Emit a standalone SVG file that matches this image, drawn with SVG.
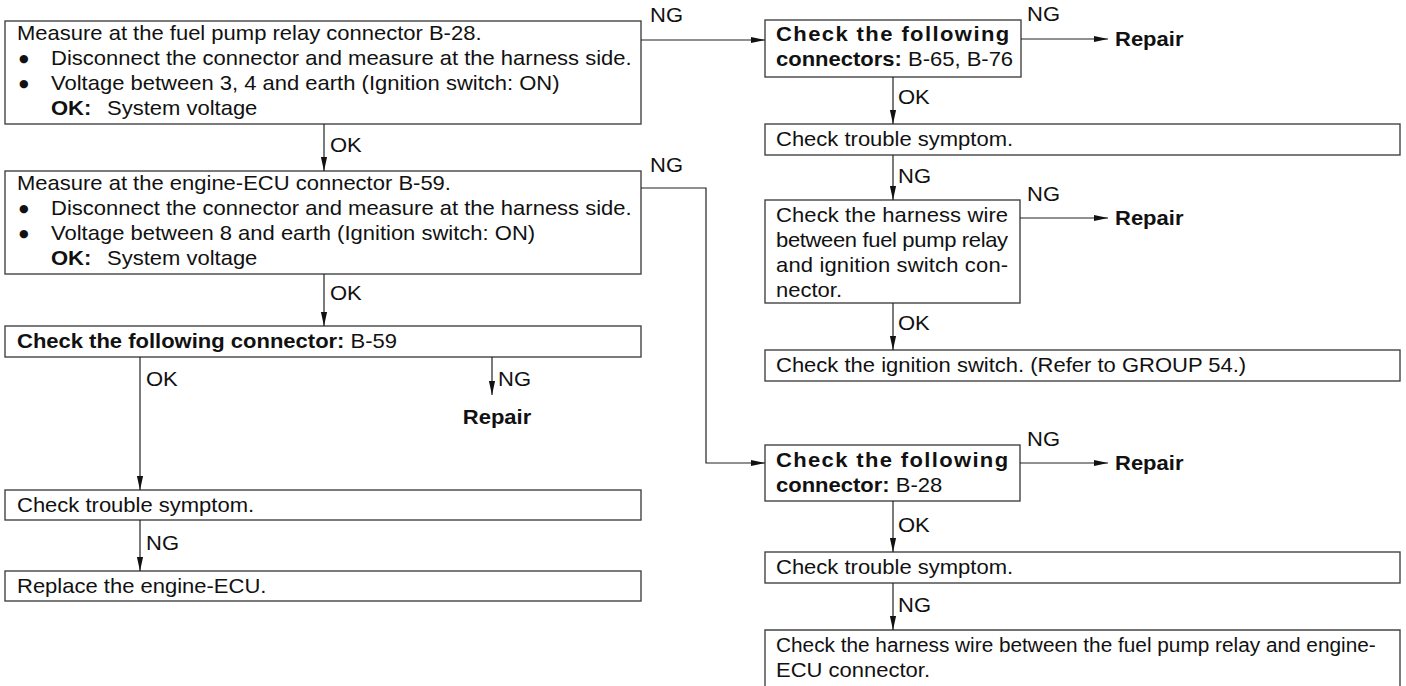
<svg xmlns="http://www.w3.org/2000/svg" width="1406" height="686" viewBox="0 0 1406 686">
<defs>
<marker id="ah" markerWidth="14" markerHeight="8" refX="14" refY="4" orient="auto" markerUnits="userSpaceOnUse">
<path d="M0,0.9 L14,4 L0,7.1 Z" fill="#111"/>
</marker>
</defs>
<style>
.box{fill:#fff;stroke:#444;stroke-width:1.4}
.t{font-family:"Liberation Sans",Arial,sans-serif;font-size:20px;fill:#111}
.b{font-weight:bold}
.bl{font-family:"DejaVu Sans",sans-serif;font-size:11px;fill:#111}
.c{fill:none;stroke:#222;stroke-width:1.2}
</style>
<rect width="1406" height="686" fill="#fff"/>

<g id="n1">
<rect class="box" x="5" y="21" width="636" height="103"/>
<text class="t" transform="translate(17 40) scale(1.1 1)">Measure at the fuel pump relay connector B-28.</text>
<text class="bl" x="19" y="62">●</text>
<text class="t" transform="translate(51 65) scale(1.1 1)">Disconnect the connector and measure at the harness side.</text>
<text class="bl" x="19" y="87">●</text>
<text class="t" transform="translate(51 90) scale(1.1 1)">Voltage between 3, 4 and earth (Ignition switch: ON)</text>
<text class="t b" transform="translate(51 115) scale(1.1 1)">OK:</text>
<text class="t" transform="translate(107 115) scale(1.1 1)">System voltage</text>
</g>

<g id="n2">
<rect class="box" x="5" y="171" width="636" height="103"/>
<text class="t" transform="translate(17 190) scale(1.1 1)">Measure at the engine-ECU connector B-59.</text>
<text class="bl" x="19" y="212">●</text>
<text class="t" transform="translate(51 215) scale(1.1 1)">Disconnect the connector and measure at the harness side.</text>
<text class="bl" x="19" y="237">●</text>
<text class="t" transform="translate(51 240) scale(1.1 1)">Voltage between 8 and earth (Ignition switch: ON)</text>
<text class="t b" transform="translate(51 265) scale(1.1 1)">OK:</text>
<text class="t" transform="translate(107 265) scale(1.1 1)">System voltage</text>
</g>

<g id="n3">
<rect class="box" x="5" y="326" width="636" height="31"/>
<text class="t" transform="translate(17 348) scale(1.1 1)"><tspan class="b">Check the following connector:</tspan> B-59</text>
</g>

<g id="n4">
<rect class="box" x="5" y="490" width="636" height="30"/>
<text class="t" transform="translate(17 512) scale(1.1 1)">Check trouble symptom.</text>
</g>

<g id="n5">
<rect class="box" x="5" y="571" width="636" height="30"/>
<text class="t" transform="translate(17 593) scale(1.1 1)">Replace the engine-ECU.</text>
</g>

<g id="n6">
<rect class="box" x="765" y="20" width="256" height="57"/>
<text class="t b" transform="translate(776 41) scale(1.1 1)" textLength="212" lengthAdjust="spacing">Check the following</text>
<text class="t" transform="translate(776 66) scale(1.1 1)"><tspan class="b">connectors:</tspan> B-65, B-76</text>
</g>

<g id="n7">
<rect class="box" x="765" y="124" width="635" height="31"/>
<text class="t" transform="translate(776 146) scale(1.1 1)">Check trouble symptom.</text>
</g>

<g id="n8">
<rect class="box" x="765" y="200" width="255" height="103"/>
<text class="t" transform="translate(776 222) scale(1.1 1)" textLength="211" lengthAdjust="spacing">Check the harness wire</text>
<text class="t" transform="translate(776 247) scale(1.1 1)" textLength="211" lengthAdjust="spacing">between fuel pump relay</text>
<text class="t" transform="translate(776 272) scale(1.1 1)" textLength="211" lengthAdjust="spacing">and ignition switch con-</text>
<text class="t" transform="translate(776 297) scale(1.1 1)">nector.</text>
</g>

<g id="n9">
<rect class="box" x="765" y="350" width="635" height="31"/>
<text class="t" transform="translate(776 372) scale(1.1 1)">Check the ignition switch. (Refer to GROUP 54.)</text>
</g>

<g id="n10">
<rect class="box" x="765" y="445" width="255" height="56"/>
<text class="t b" transform="translate(776 467) scale(1.1 1)" textLength="211" lengthAdjust="spacing">Check the following</text>
<text class="t" transform="translate(776 492) scale(1.1 1)"><tspan class="b">connector:</tspan> B-28</text>
</g>

<g id="n11">
<rect class="box" x="765" y="552" width="635" height="31"/>
<text class="t" transform="translate(776 574) scale(1.1 1)">Check trouble symptom.</text>
</g>

<g id="n12">
<path class="box" d="M765,700 V630 H1400 V700"/>
<text class="t" transform="translate(776 652) scale(1.04 1)">Check the harness wire between the fuel pump relay and engine-</text>
<text class="t" transform="translate(776 677) scale(1.1 1)">ECU connector.</text>
</g>

<g id="repairs">
<text class="t b" transform="translate(1115 46) scale(1.1 1)">Repair</text>
<text class="t b" transform="translate(1115 225) scale(1.1 1)">Repair</text>
<text class="t b" transform="translate(1115 470) scale(1.1 1)">Repair</text>
<text class="t b" text-anchor="middle" transform="translate(497 424) scale(1.1 1)">Repair</text>
</g>

<g id="connectors">
<path class="c" d="M641,40 H765" marker-end="url(#ah)"/>
<path class="c" d="M1021,39 H1108" marker-end="url(#ah)"/>
<path class="c" d="M893,77 V124" marker-end="url(#ah)"/>
<path class="c" d="M893,155 V200" marker-end="url(#ah)"/>
<path class="c" d="M1020,218 H1108" marker-end="url(#ah)"/>
<path class="c" d="M893,303 V350" marker-end="url(#ah)"/>
<path class="c" d="M641,188 H706 V463 H765" marker-end="url(#ah)"/>
<path class="c" d="M1020,463 H1108" marker-end="url(#ah)"/>
<path class="c" d="M893,501 V552" marker-end="url(#ah)"/>
<path class="c" d="M893,583 V630" marker-end="url(#ah)"/>
<path class="c" d="M324,124 V171" marker-end="url(#ah)"/>
<path class="c" d="M324,274 V326" marker-end="url(#ah)"/>
<path class="c" d="M140,357 V490" marker-end="url(#ah)"/>
<path class="c" d="M492,357 V395" marker-end="url(#ah)"/>
<path class="c" d="M140,520 V571" marker-end="url(#ah)"/>
</g>

<g id="labels">
<text class="t" transform="translate(650 22) scale(1.1 1)">NG</text>
<text class="t" transform="translate(1027 21) scale(1.1 1)">NG</text>
<text class="t" transform="translate(898 104) scale(1.1 1)">OK</text>
<text class="t" transform="translate(898 183) scale(1.1 1)">NG</text>
<text class="t" transform="translate(1027 201) scale(1.1 1)">NG</text>
<text class="t" transform="translate(898 330) scale(1.1 1)">OK</text>
<text class="t" transform="translate(650 172) scale(1.1 1)">NG</text>
<text class="t" transform="translate(1027 446) scale(1.1 1)">NG</text>
<text class="t" transform="translate(898 532) scale(1.1 1)">OK</text>
<text class="t" transform="translate(898 612) scale(1.1 1)">NG</text>
<text class="t" transform="translate(330 152) scale(1.1 1)">OK</text>
<text class="t" transform="translate(330 300) scale(1.1 1)">OK</text>
<text class="t" transform="translate(146 386) scale(1.1 1)">OK</text>
<text class="t" transform="translate(498 386) scale(1.1 1)">NG</text>
<text class="t" transform="translate(146 550) scale(1.1 1)">NG</text>
</g>
</svg>
